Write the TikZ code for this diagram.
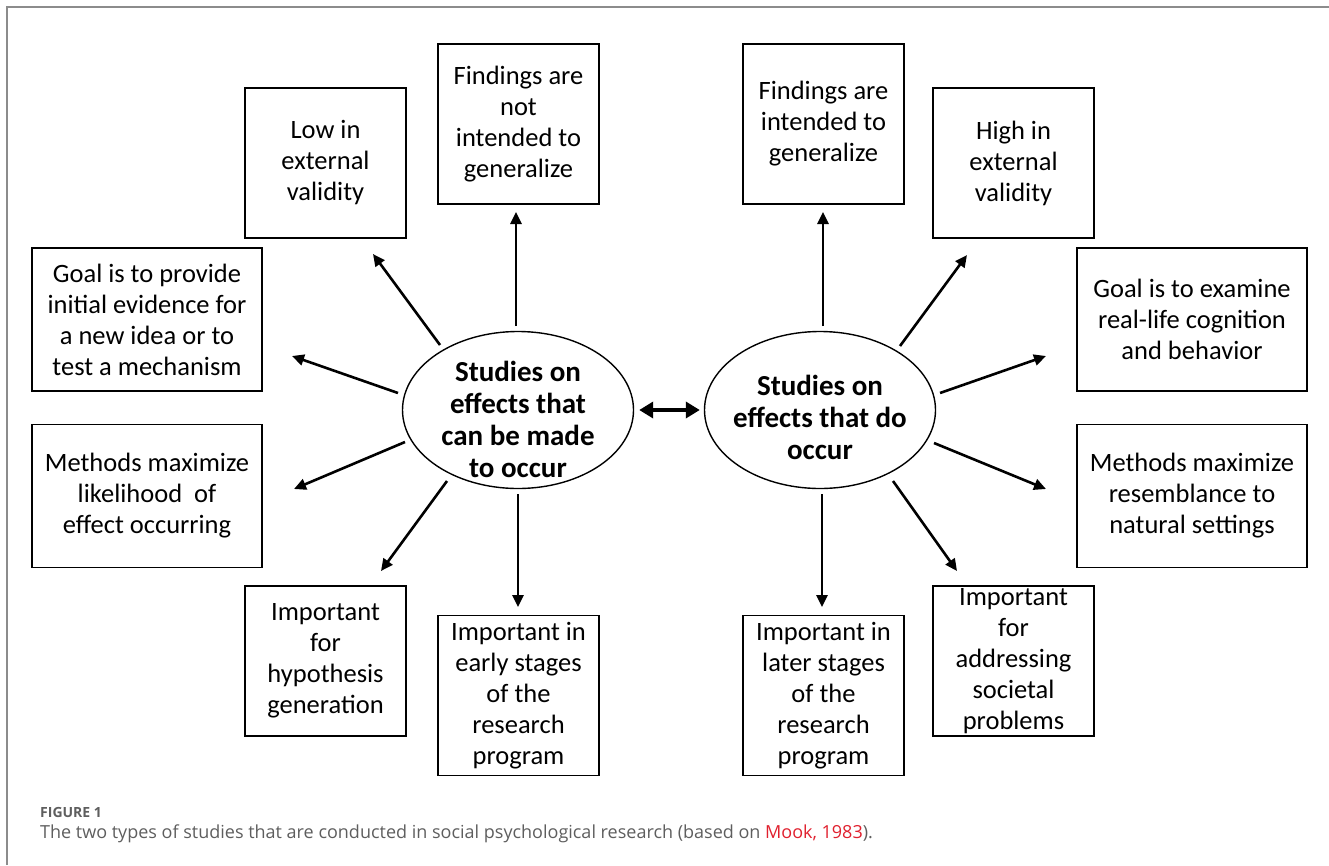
\documentclass[tikz,border=0pt]{standalone}
\usepackage{fontspec}
\setmainfont{Carlito}
\newfontfamily\capfont{Open Sans}
\usetikzlibrary{arrows.meta,shapes.geometric}
\definecolor{framegray}{HTML}{8C8C8C}
\definecolor{capgray}{HTML}{5E5E5E}
\definecolor{mookred}{HTML}{E0202E}
\begin{document}
\begin{tikzpicture}[x=1pt,y=-1pt,
 box/.style={draw,line width=1.4pt,inner sep=0pt,align=center,font=\fontsize{26.5}{31}\selectfont},
 small/.style={box,minimum width=161pt,minimum height=150pt},
 tall/.style={box,minimum width=161pt,minimum height=160pt},
 wide/.style={box,minimum width=230pt,minimum height=143pt},
 oval/.style={draw,ellipse,line width=1.4pt,inner sep=0pt,minimum width=231pt,minimum height=157pt},
 ovaltext/.style={inner sep=0pt,align=center,font=\fontsize{29}{32}\selectfont\bfseries},
 arr/.style={line width=2.6pt,-{Triangle[length=12pt,width=11pt]}},
 dbl/.style={line width=4pt,{Triangle[length=14pt,width=16pt]}-{Triangle[length=14pt,width=16pt]}},
 frame/.style={draw=framegray,line width=2pt}]
\useasboundingbox (0,0) rectangle (1329,865);
\draw[frame] (7,865) -- (7,7) -- (1329,7);

% ellipses
\node[oval] (le) at (518,410) {};
\node[ovaltext] (lt) at (518,419) {Studies on\\effects that\\can be made\\to occur};
\node[oval] (re) at (820,410) {};
\node[ovaltext] (rt) at (820,417) {Studies on\\effects that do\\occur};

% left boxes
\node[small] (low) at (325.5,163) {Low in\\external\\validity};
\node[tall] (findl) at (518.5,124) {Findings are\\not\\intended to\\generalize};
\node[wide] (goall) at (147,319.5) {Goal is to provide\\initial evidence for\\a new idea or to\\test a mechanism};
\node[wide] (methl) at (147,496) {Methods maximize\\likelihood\ \ of\\effect occurring};
\node[small] (imphyp) at (325.5,661) {Important\\for\\hypothesis\\generation};
\node[tall] (impearly) at (518.5,695.5) {Important in\\early stages\\of the\\research\\program};

% right boxes
\node[tall] (findr) at (823.5,124) {Findings are\\intended to\\generalize};
\node[small] (high) at (1013.5,163) {High in\\external\\validity};
\node[wide] (goalr) at (1192,319.5) {Goal is to examine\\real-life cognition\\and behavior};
\node[wide] (methr) at (1192,496) {Methods maximize\\resemblance to\\natural settings};
\node[small] (impsoc) at (1013.5,661) {Important\\for\\addressing\\societal\\problems};
\node[tall] (implate) at (823.5,695.5) {Important in\\later stages\\of the\\research\\program};

% arrow end points
\coordinate (a1s) at (516,326); \coordinate (a1e) at (516,212);
\coordinate (a2s) at (440,345); \coordinate (a2e) at (373,254);
\coordinate (a3s) at (398,393); \coordinate (a3e) at (292,356);
\coordinate (a4s) at (405,442); \coordinate (a4e) at (294,489);
\coordinate (a5s) at (447,481); \coordinate (a5e) at (381,571);
\coordinate (a6s) at (518,494); \coordinate (a6e) at (518,607);
\coordinate (b1s) at (823,326); \coordinate (b1e) at (823,212);
\coordinate (b2s) at (900,346); \coordinate (b2e) at (967,255);
\coordinate (b3s) at (940,393); \coordinate (b3e) at (1046,356);
\coordinate (b4s) at (934,443); \coordinate (b4e) at (1046,489);
\coordinate (b5s) at (893,481); \coordinate (b5e) at (957,571);
\coordinate (b6s) at (822,494); \coordinate (b6e) at (822,607);
\foreach \s in {a1,a2,a3,a4,a5,a6,b1,b2,b3,b4,b5,b6}
  \draw[arr] (\s s) -- (\s e);

\draw[dbl] ([xshift=5pt]le.east) -- ([xshift=-4pt]re.west);

% caption
\node[anchor=base west,inner sep=0pt,text=capgray,font=\capfont\bfseries\fontsize{14}{16}\selectfont] (fig) at (40,817) {FIGURE 1};
\node[anchor=base west,inner sep=0pt,text=capgray,font=\capfont\fontsize{18}{20}\selectfont] (cap) at (40,838) {The two types of studies that are conducted in social psychological research (based on \textcolor{mookred}{Mook, 1983}).};
\end{tikzpicture}
\end{document}
